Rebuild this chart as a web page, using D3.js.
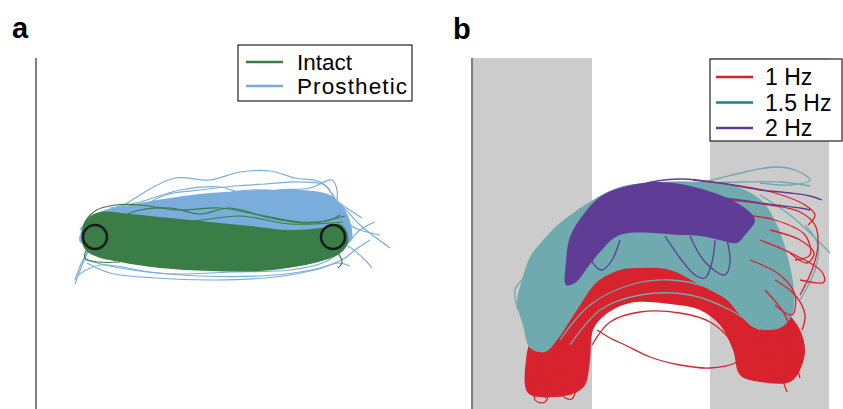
<!DOCTYPE html>
<html lang="en">
  <head>
    <meta charset="UTF-8" />
    <title>Trajectories</title>
    <style>
      body { margin: 0; background: #fff; }
      svg { display: block; font-family: "Liberation Sans", Arial, sans-serif; }
    </style>
  </head>
  <body>
    <svg width="843" height="409"></svg>
    <script src="https://d3js.org/d3.v7.min.js"></script>
    <script>
      // ---- panel a data (units: x right, y up, start target = 0,0) ----
      const greenTop = [[-1.3,0.9],[-0.7,1.9],[0.5,2.5],[3.5,2.3],[7.5,1.9],[11.5,1.5],[15.5,1.1],[19.5,0.7],[22.5,0.9],[24.5,1.3],[25.2,0.5]];
      const greenBottom = [[-1.1,-1.1],[0,-1.9],[2.5,-2.5],[6.5,-3.1],[11.5,-3.4],[16.5,-3.4],[20.5,-2.9],[23,-2.3],[24.7,-1.5],[25.3,-0.5]];
      const blueTop = [[-1,1.2],[0.5,2.5],[3.5,3.2],[7.5,3.9],[11.5,4.4],[16.5,4.7],[20.5,4.7],[23.5,4.2],[25,2.7],[25.7,0.7]];
      const blueBottom = [[-1.5,-0.5],[5,-1],[15,-1],[25.5,-0.5]];

      const blueTraces = [
        [[-2,-4.7],[-1,-2.1],[0.5,1.2],[4.5,4.2],[8,5.9],[11.5,5.7],[14.5,6.5],[17.5,6.6],[20,5.9],[22.5,5.5],[23.8,4.2],[24.5,2.5],[25,0.7]],
        [[0,-0.3],[3.5,2.2],[7,4.2],[10.5,4.7],[14,5.1],[17,5.3],[20.5,5.5],[23,5.2],[24,3.7],[25.5,1.2],[28.5,0.2]],
        [[-0.5,0.1],[2.5,1.5],[6.5,2.9],[11.5,3.7],[16.5,4],[21.5,4.2],[24.5,3.2],[26.5,1.2],[29.5,-1.1]],
        [[-1.7,-3.8],[0.5,-2.8],[5.5,-3.5],[10.5,-3.9],[16.5,-3.9],[20.5,-3.5],[23.5,-2.8],[25,-2.1],[26,-1.3],[27.5,-0.3]],
        [[-1,-2.3],[2.5,-3.1],[7.5,-3.7],[13.5,-3.5],[19.5,-3.3],[23,-2.5],[24.5,-1.5],[26.5,0.7],[28,1.5]],
        [[1.5,2.9],[4.5,3.5],[8.5,4.7],[12.5,5],[15.5,4.2],[18.5,4.7],[21.5,4.9],[23.7,5.7],[24.2,4.7],[24,2.2]],
        [[-2,-4.3],[-1.3,-2.5],[-0.5,-1.3],[0.5,-0.5],[3.5,-1.3],[8.5,-2.5],[14.5,-3.1],[20.5,-2.5],[23.5,-1.3],[25,-0.8],[27,-2.3],[27.7,-3.1]],
        [[-1.5,0.7],[-0.3,1.9],[1,2.5],[4,2.4],[7.5,3.3],[11.5,4.1],[15.5,4.7],[19.5,4.5],[23,4.2],[25,3],[26.7,1.9]],
        [[-0.8,-2.6],[1.5,-3.6],[6,-4.1],[12,-4.3],[18,-4],[22,-3.3],[24.3,-2.6],[25.5,-2.9]]
      ];
      const greenTraces = [
        [[-1,-0.1],[-1.1,1.2],[0,2.6],[2,3.2],[4.5,3.2],[8.5,2.7],[12.5,2.9],[16.5,2.2],[20.5,1.5],[23.5,1.7],[24.5,2.2]],
        [[0,-0.3],[3.5,2.4],[7.5,2.9],[10.5,2.3],[13.5,2.9],[17.5,1.9],[21.5,1.4],[25,2.1]],
        [[0,0.2],[4.5,1.9],[9.5,1.6],[14.5,2.1],[19.5,1.3],[24.8,1.5]],
        [[22.5,-0.3],[24,-1.3],[24.7,-2.5],[24.3,-3.1]],
        [[0.5,-0.3],[-0.7,-1.1],[-1,-2.1],[0.3,-2.5],[2.5,-2.5]]
      ];
      const targets = [[0, 0], [23.8, 0]];
      const legendA = ["Intact", "Prosthetic"];

      // ---- panel b data (units: x right from axis, y up from bottom) ----
      const bands = [[0.1, 12], [23.8, 35.7]];
      const redOuter = [[5.6,1.6],[5.4,4.9],[6,7.1],[8.8,10.4],[11.8,12.9],[14.8,14.1],[18.8,14.7],[22.8,14.4],[25.8,13.4],[28.8,11.9],[31.3,9.9],[32.8,7.9],[33.3,5.9],[32.8,3.9],[31.8,2.7]];
      const redInner = [[28.8,2.7],[26.8,3.4],[26.1,5.9],[24.8,8.4],[22.8,9.9],[19.8,10.5],[15.8,10.6],[13.3,9.4],[12.1,7.9],[11.8,4.9],[11.3,2.4],[10.3,1.6],[8.3,1.2]];
      const tealBlob = [[5.1,8.4],[4.5,10.7],[5,12.9],[5.8,15.2],[7.3,17.1],[8.8,18.6],[12.1,20.9],[14.8,22.2],[18.8,22.7],[22.8,22.7],[26.8,22.1],[29.1,20.7],[30.5,18.4],[31.6,15.1],[32.2,11.7],[32,9.4],[30.8,8.1],[28.3,8.1],[26.8,9.4],[25.5,10.9],[22.8,12.4],[19.8,13.9],[16.8,14.1],[14.8,13.9],[12.5,12.7],[10.5,9.9],[8.5,6.9],[7.3,5.7],[5.8,6.1]];
      const purpleBlob = [[9.4,12.4],[9.4,14.7],[9.8,17.2],[11.1,19.4],[13.1,21.4],[17.1,22.6],[20.8,22.5],[24.8,21.4],[27.3,20.1],[28.3,18.9],[27.3,17.4],[26.5,16.6],[24.8,16.9],[22.8,17.3],[20.8,17.4],[14.8,17.4],[12.8,15.7],[11.6,14.2],[10.3,12.6]];

      const redTracesUnder = [
        [[12.5,7.9],[13.8,7.1],[15.3,6.4],[17.8,5.2],[20.8,4.4],[23.8,4.1],[26.3,4.6],[28.1,5.9],[29.3,7.4]],
        [[12,6.4],[13.8,8.7],[16.8,9.7],[20.8,9.6],[23.8,8.7],[25.8,6.9],[26.6,4.9]],
        [[7.3,1.1],[8.8,5.4],[11.3,8.9],[14.8,10.7],[18.8,11.3],[22.8,10.9],[26.3,9.4],[28.8,6.9],[30.6,3.9],[31.5,1.7]],
        [[6.3,2.4],[7.3,6.4],[9.8,9.9],[13.8,12.4],[18.3,13.4],[22.8,13.1],[26.8,11.7],[29.8,9.1],[32,5.4],[32.8,3.1]],
        [[6.8,3.9],[6.3,0.9],[7.3,0.7],[8,3.4]],
        [[9.3,4.4],[9,1.4],[10,1],[10.6,3.4]],
        [[29.5,5.5],[30.3,3.1],[31.3,3.2],[31.2,5.5]]
      ];
      const redTracesOver = [
        [[25.8,20.9],[29.8,20.4],[32.8,19.7],[34.3,18.4],[34.6,16.4],[34,13.9],[32.8,11.4]],
        [[28.8,16.9],[32.3,15.4],[35,13.7],[35.2,12.7],[32.8,12.9]],
        [[22.1,22.9],[26.8,22.3],[30.3,21.6],[33.3,20.4],[34.3,19.4],[33.6,18.4]],
        [[29.8,17.9],[32.8,16.9],[34.2,15.6],[33.5,14.6],[31.8,15.6]],
        [[30.3,12.9],[32.3,11.4],[33.3,9.4],[33,7.9]],
        [[27.8,14.9],[30.8,13.4],[32.3,11.4],[32,9.4],[30.3,10.4]],
        [[26.8,19.4],[30.3,18.9],[33.3,17.4],[33.8,15.4],[32.3,14.9]],
        [[29.3,11.9],[31.3,9.4],[31.8,7.4],[30.8,6.4]]
      ];
      const tealTraces = [
        [[20.8,22.1],[24.8,23.1],[27.3,23.7],[30.3,24.2],[32.3,23.9],[33.8,22.9],[31.8,22.4],[28.8,22.6]],
        [[28.8,21.4],[31.8,19.4],[34,17.4],[35.8,15.6]],
        [[4.5,10.7],[5.8,12.4],[7.6,14.4],[9.8,16.4],[12.8,18.7]],
        [[22.8,22.6],[26.8,22.7],[30.8,22.7],[33.8,22.3]],
        [[8.8,6.9],[11.8,10.4],[15.8,12.4],[19.8,12.9],[23.8,12.1],[27.3,10.4],[29.8,7.9]],
        [[9.8,6.4],[12.8,9.9],[16.8,11.4],[21.8,11.4],[25.8,9.9],[28.8,7.9]],
        [[32.8,10.9],[34.3,13.9],[34.6,16.4],[33.3,18.4]],
        [[4.6,9.9],[4.3,11.9],[5.5,13.4]]
      ];
      const purpleTraces = [
        [[11.8,16.9],[12.1,14.6],[13,13.9],[14,14.9],[14.8,16.9]],
        [[19.3,17.3],[20.8,15.1],[22.3,13.4],[23.3,13.1],[24,14.7],[24.3,16.9]],
        [[21.8,17.3],[23.3,14.7],[25.3,13.4],[25.8,14.7],[25.5,16.9]],
        [[12.8,20.4],[16.8,22.4],[20.8,23],[24.8,22.6],[28.8,21.9],[31.8,21.6],[33.8,21.3],[35,20.9]],
        [[22.8,21.4],[26.8,20.9],[30.3,20.4],[32.8,20.1],[33.8,19.9]],
        [[9.5,12.9],[10.3,14.9],[11.3,16.4]]
      ];
      const legendB = ["1 Hz", "1.5 Hz", "2 Hz"];

      const colors = {
        green: "#3b7d47", blue: "#7aaddb",
        red: "#d8222e", teal: "#6eaaae", tealKey: "#1f8088", purple: "#5f3d96"
      };

      const svg = d3.select("svg");

      // ---------------- panel a ----------------
      const xA = d3.scaleLinear().domain([-5.9, 34.1]).range([36, 436]);
      const yA = d3.scaleLinear().domain([-17.2, 17.9]).range([409, 58]);
      const gA = svg.append("g");

      const lineA = d3.line().x(d => xA(d[0])).y(d => yA(d[1])).curve(d3.curveCatmullRom);
      const blobA = d3.line().x(d => xA(d[0])).y(d => yA(d[1])).curve(d3.curveCatmullRomClosed);

      gA.append("path")
        .attr("d", blobA(blueTop.concat(blueBottom.slice().reverse())))
        .attr("fill", colors.blue);
      gA.selectAll(".blue").data(blueTraces).join("path")
        .attr("d", lineA).attr("fill", "none")
        .attr("stroke", colors.blue).attr("stroke-width", 1.2);
      gA.append("path")
        .attr("d", blobA(greenTop.concat(greenBottom.slice().reverse())))
        .attr("fill", colors.green);
      gA.selectAll(".green").data(greenTraces).join("path")
        .attr("d", lineA).attr("fill", "none")
        .attr("stroke", colors.green).attr("stroke-width", 1.2);

      gA.selectAll("circle").data(targets).join("circle")
        .attr("cx", d => xA(d[0])).attr("cy", d => yA(d[1]))
        .attr("r", 12).attr("fill", "none")
        .attr("stroke", "#1a1a1a").attr("stroke-width", 2.5);

      gA.append("line").attr("x1", 36).attr("x2", 36).attr("y1", 58).attr("y2", 409)
        .attr("stroke", "#555").attr("stroke-width", 1.5);

      svg.append("text").attr("x", 12).attr("y", 38).text("a")
        .attr("font-size", 29).attr("font-weight", "bold");

      const legA = svg.append("g").attr("transform", "translate(238,45)");
      legA.append("rect").attr("width", 174).attr("height", 56)
        .attr("fill", "#fff").attr("stroke", "#222").attr("stroke-width", 1.2);
      legA.selectAll("line").data(legendA).join("line")
        .attr("x1", 8).attr("x2", 45)
        .attr("y1", (d, i) => 17 + i * 24).attr("y2", (d, i) => 17 + i * 24)
        .attr("stroke", (d, i) => i ? colors.blue : colors.green).attr("stroke-width", 2.5);
      legA.selectAll("text").data(legendA).join("text")
        .attr("x", 59).attr("y", (d, i) => 25 + i * 24)
        .attr("font-size", 22.5).attr("textLength", (d, i) => i ? 110 : null).text(d => d);

      // ---------------- panel b ----------------
      const xB = d3.scaleLinear().domain([0, 37.1]).range([472, 843]);
      const yB = d3.scaleLinear().domain([0, 35.1]).range([409, 58]);
      const gB = svg.append("g");

      gB.selectAll("rect").data(bands).join("rect")
        .attr("x", d => xB(d[0])).attr("width", d => xB(d[1]) - xB(d[0]))
        .attr("y", yB(35.1)).attr("height", yB(0) - yB(35.1))
        .attr("fill", "#cccccc");

      const lineB = d3.line().x(d => xB(d[0])).y(d => yB(d[1])).curve(d3.curveCatmullRom);
      const blobB = d3.line().x(d => xB(d[0])).y(d => yB(d[1])).curve(d3.curveCatmullRomClosed);

      function traces(data, color) {
        gB.append("g").selectAll("path").data(data).join("path")
          .attr("d", lineB).attr("fill", "none")
          .attr("stroke", color).attr("stroke-width", 1.3);
      }

      gB.append("path").attr("d", blobB(redOuter.concat(redInner))).attr("fill", colors.red);
      traces(redTracesUnder, colors.red);
      gB.append("path").attr("d", blobB(tealBlob)).attr("fill", colors.teal);
      traces(tealTraces, colors.teal);
      traces(redTracesOver, colors.red);
      gB.append("path").attr("d", blobB(purpleBlob)).attr("fill", colors.purple);
      traces(purpleTraces, colors.purple);

      gB.append("line").attr("x1", 472).attr("x2", 472).attr("y1", 58).attr("y2", 409)
        .attr("stroke", "#555").attr("stroke-width", 1.5);

      svg.append("text").attr("x", 453).attr("y", 39).text("b")
        .attr("font-size", 29).attr("font-weight", "bold");

      const legB = svg.append("g").attr("transform", "translate(710,59)");
      legB.append("rect").attr("width", 132).attr("height", 82)
        .attr("fill", "#fff").attr("stroke", "#222").attr("stroke-width", 1.2);
      const keyColors = [colors.red, colors.tealKey, colors.purple];
      legB.selectAll("line").data(legendB).join("line")
        .attr("x1", 6).attr("x2", 43)
        .attr("y1", (d, i) => 18 + i * 25.5).attr("y2", (d, i) => 18 + i * 25.5)
        .attr("stroke", (d, i) => keyColors[i]).attr("stroke-width", 2.5);
      legB.selectAll("text").data(legendB).join("text")
        .attr("x", 55).attr("y", (d, i) => 26 + i * 25.5)
        .attr("font-size", 23).text(d => d);
    </script>
  </body>
</html>
